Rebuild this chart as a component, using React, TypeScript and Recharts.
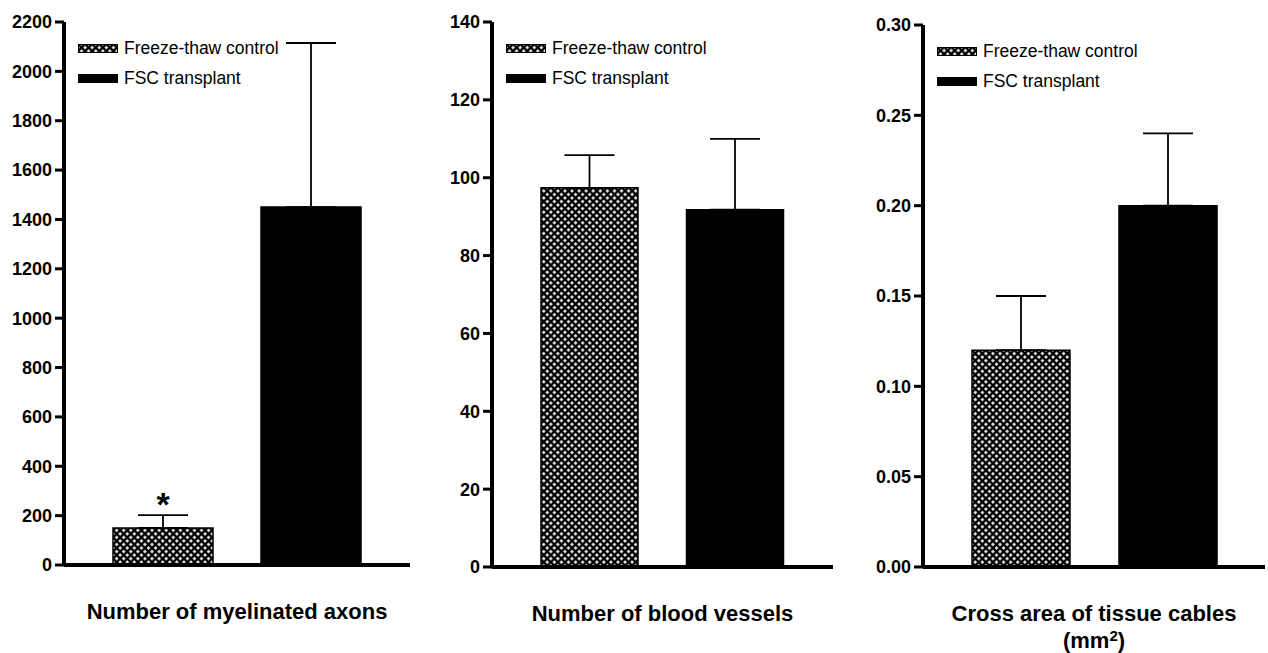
import { Bar, BarChart, Cell, ErrorBar, LabelList, Label, Legend, XAxis, YAxis } from "recharts";

const groups = ["Freeze-thaw control", "FSC transplant"];

const axonMeans = [150, 1450];
const axonErrors = [52, 665];
const axonMarks = ["*", ""];
const axonTicks = [0, 200, 400, 600, 800, 1000, 1200, 1400, 1600, 1800, 2000, 2200];

const vesselMeans = [97.4, 91.8];
const vesselErrors = [8.4, 18.2];
const vesselMarks = ["", ""];
const vesselTicks = [0, 20, 40, 60, 80, 100, 120, 140];

const areaMeans = [0.12, 0.2];
const areaErrors = [0.03, 0.04];
const areaMarks = ["", ""];
const areaTicks = [0, 0.05, 0.1, 0.15, 0.2, 0.25, 0.3];

const FONT = "'Liberation Sans', Arial, Helvetica, sans-serif";

const rows = (means: number[], errs: number[], marks: string[]) =>
  groups.map((g, i) => ({ group: g, value: means[i], err: [0, errs[i]], mark: marks[i] }));

function Hatch({ id }: { id: string }) {
  return (
    <pattern id={id} patternUnits="userSpaceOnUse" width={5} height={5} patternTransform="rotate(45)">
      <rect width={5} height={5} fill="#000" />
      <rect x={1.2} y={1.2} width={2.6} height={2.6} fill="#fff" />
    </pattern>
  );
}

function Key({ id }: { id: string }) {
  return (
    <div style={{ fontFamily: FONT, fontSize: 17.5, color: "#000" }}>
      {groups.map((g, i) => (
        <div key={g} style={{ display: "flex", alignItems: "center", height: 30, whiteSpace: "nowrap" }}>
          <svg width={40} height={9} style={{ marginRight: 6 }}>
            <rect x={0.5} y={0.5} width={39} height={8} fill={i === 0 ? `url(#${id})` : "#000"} stroke="#000" />
          </svg>
          {g}
        </div>
      ))}
    </div>
  );
}

type PanelProps = {
  id: string;
  left: number;
  data: ReturnType<typeof rows>;
  ticks: number[];
  fmt: (v: number) => string;
  title: string[];
  yWidth: number;
  right: number;
  top: number;
  bottom: number;
  barSize: number;
  pad: number;
};

const frame = { stroke: "#000", strokeWidth: 4 };

function Panel(p: PanelProps) {
  const max = p.ticks[p.ticks.length - 1];
  const renderTitle = (props: any) => {
    const vb = props.viewBox;
    const cx = vb.x + vb.width / 2;
    return (
      <text x={cx} y={vb.y + 54} textAnchor="middle" fontFamily={FONT} fontWeight="bold" fontSize={22} fill="#000">
        <tspan x={cx}>{p.title[0]}</tspan>
        {p.title.length > 1 && (
          <tspan x={cx} dy={27}>
            (mm<tspan fontSize={15} dy={-7}>2</tspan>
            <tspan dy={7}>)</tspan>
          </tspan>
        )}
      </text>
    );
  };
  return (
    <div style={{ position: "absolute", left: p.left, top: 0 }}>
      <BarChart
        width={420}
        height={653}
        data={p.data}
        margin={{ top: p.top, right: p.right, bottom: 0, left: 0 }}
      >
        <defs>
          <Hatch id={p.id} />
        </defs>
        <XAxis
          dataKey="group"
          height={p.bottom}
          stroke="#000"
          strokeWidth={4}
          tick={false}
          tickLine={false}
          axisLine={frame}
          padding={{ left: p.pad, right: p.pad }}
        >
          <Label content={renderTitle} />
        </XAxis>
        <XAxis
          xAxisId="top"
          orientation="top"
          dataKey="group"
          height={0}
          stroke="#000"
          strokeWidth={4}
          tick={false}
          tickLine={false}
          axisLine={frame}
        />
        <YAxis
          domain={[0, max]}
          ticks={p.ticks}
          width={p.yWidth}
          interval={0}
          stroke="#000"
          strokeWidth={4}
          tickSize={9}
          tickMargin={3}
          tickFormatter={p.fmt}
          tick={{ fill: "#000", stroke: "none", fontFamily: FONT, fontWeight: "bold", fontSize: 18 }}
          tickLine={{ stroke: "#000", strokeWidth: 3 }}
          axisLine={frame}
        />
        <YAxis
          yAxisId="r"
          orientation="right"
          domain={[0, max]}
          width={0}
          stroke="#000"
          strokeWidth={4}
          tick={false}
          tickLine={false}
          axisLine={frame}
        />
        <Legend
          layout="vertical"
          align="center"
          verticalAlign="middle"
          wrapperStyle={{ left: p.yWidth + 14, top: p.top + 11, width: "auto", height: "auto" }}
          content={() => <Key id={p.id} />}
        />
        <Bar dataKey="value" barSize={p.barSize} stroke="#000" strokeWidth={1.5} isAnimationActive={false}>
          {p.data.map((d, i) => (
            <Cell key={d.group} fill={i === 0 ? `url(#${p.id})` : "#000"} />
          ))}
          <ErrorBar dataKey="err" direction="y" width={25} stroke="#000" strokeWidth={1.8} />
          <LabelList dataKey="mark" position="top" offset={12} fontSize={34} fontWeight="bold" fontFamily={FONT} fill="#000" />
        </Bar>
      </BarChart>
    </div>
  );
}

export default function App() {
  return (
    <div style={{ position: "absolute", left: 0, top: 0, width: 1268, height: 653, background: "#fff" }}>
      <Panel
        id="hatch-a"
        left={0}
        data={rows(axonMeans, axonErrors, axonMarks)}
        ticks={axonTicks}
        fmt={(v) => String(v)}
        title={["Number of myelinated axons"]}
        yWidth={64}
        right={10}
        top={22}
        bottom={88}
        barSize={100}
        pad={25}
      />
      <Panel
        id="hatch-b"
        left={420}
        data={rows(vesselMeans, vesselErrors, vesselMarks)}
        ticks={vesselTicks}
        fmt={(v) => String(v)}
        title={["Number of blood vessels"]}
        yWidth={72}
        right={7}
        top={22}
        bottom={86}
        barSize={97}
        pad={25}
      />
      <Panel
        id="hatch-c"
        left={848}
        data={rows(areaMeans, areaErrors, areaMarks)}
        ticks={areaTicks}
        fmt={(v) => v.toFixed(2)}
        title={["Cross area of tissue cables", "mm2"]}
        yWidth={75}
        right={3}
        top={25}
        bottom={86}
        barSize={98}
        pad={24}
      />
    </div>
  );
}
